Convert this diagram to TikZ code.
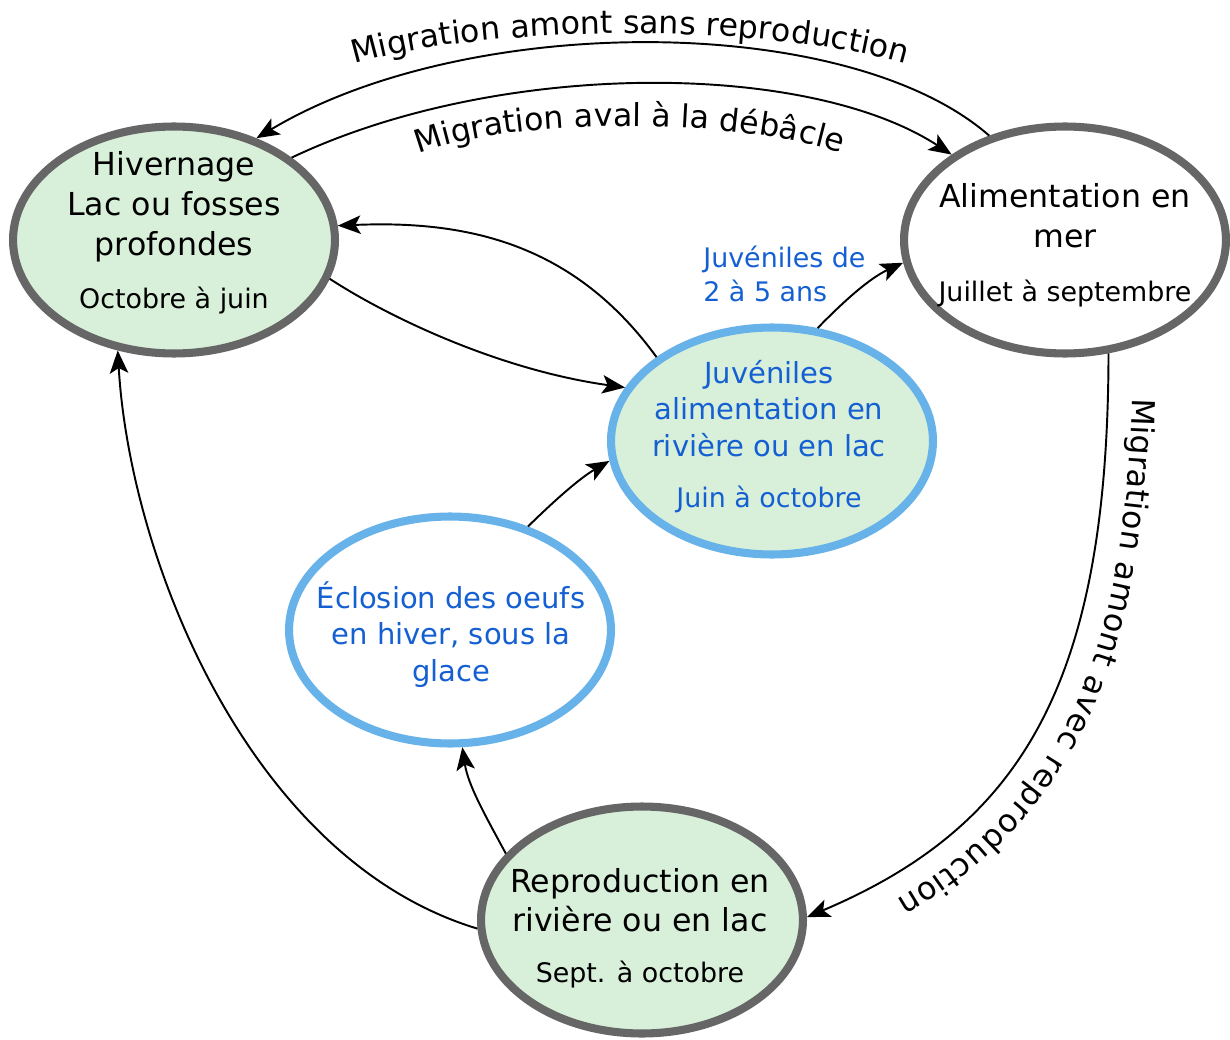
\documentclass[tikz,border=0pt]{standalone}
\usepackage{fontspec}
\setmainfont{DejaVu Sans}
\usetikzlibrary{shapes.geometric,arrows.meta,decorations.text}
\definecolor{grayb}{RGB}{102,102,102}
\definecolor{greenf}{RGB}{216,240,218}
\definecolor{blueb}{RGB}{104,178,234}
\definecolor{bluet}{RGB}{20,95,210}
\newcommand{\mybigfont}{\fontsize{18}{22.7}\selectfont}
\newcommand{\mybluefont}{\fontsize{16.5}{21}\selectfont}
\newcommand{\mysmfont}{\fontsize{15.3}{18}\selectfont}
\newcommand{\mylabfont}{\fontsize{15.3}{19.3}\selectfont}
\newcommand{\myarcfont}{\fontsize{18}{20}\selectfont}
\begin{document}
\begin{tikzpicture}[x=0.02cm,y=0.02cm,
  ell/.style={ellipse, minimum width=6.44cm, minimum height=4.54cm, inner sep=0pt, line width=4.6pt},
  grayell/.style={ell, draw=grayb},
  blueell/.style={ell, draw=blueb},
  txt/.style={inner sep=0pt, anchor=base},
  conn/.style={line width=1.1pt, -{Stealth[length=13pt,width=10.5pt,inset=3pt]}},
  arclabel/.style={decorate, decoration={text along path, text align=center}}
]
\useasboundingbox (0,0) rectangle (1230,-1040);
% ellipses
\node[grayell, fill=greenf] (hiv) at (174,-240) {};
\node[grayell, fill=white] (ali) at (1065,-240) {};
\node[blueell, fill=greenf] (juv) at (772,-441) {};
\node[blueell, fill=white] (ecl) at (450,-630) {};
\node[grayell, fill=greenf] (rep) at (642,-920) {};
% texts
\node[txt] (hivt) at (174,-176) {\mybigfont\begin{tabular}[t]{@{}c@{}}Hivernage\\Lac ou fosses\\profondes\\[7.3pt]\mysmfont Octobre à juin\end{tabular}};
\node[txt] (alit) at (1065,-208) {\mybigfont\begin{tabular}[t]{@{}c@{}}Alimentation en\\mer\\[8pt]\mysmfont Juillet à septembre\end{tabular}};
\node[txt, text=bluet] (juvt) at (769,-383) {\mybluefont\begin{tabular}[t]{@{}c@{}}Juvéniles\\alimentation en\\rivière ou en lac\\[7.9pt]\mysmfont Juin à octobre\end{tabular}};
\node[txt, text=bluet] (eclt) at (451,-608) {\mybluefont\begin{tabular}[t]{@{}c@{}}Éclosion des oeufs\\en hiver, sous la\\glace\end{tabular}};
\node[txt] (rept) at (640,-892) {\mybigfont\begin{tabular}[t]{@{}c@{}}Reproduction en\\rivière ou en lac\\[6.2pt]\mysmfont Sept. à octobre\end{tabular}};
\node[inner sep=0pt, anchor=base west, text=bluet] (jlab) at (703,-268) {\mylabfont\begin{tabular}[t]{@{}l@{}}Juvéniles de\\2 à 5 ans\end{tabular}};
% connectors
\draw[conn] (ali.126) .. controls (848,-12) and (467,-12) .. (hiv.51);
\draw[conn] (hiv.35) .. controls (497,-60) and (806,-60) .. (ali.143);
\draw[conn] (juv.144) .. controls (575,-245) and (470,-220) .. (hiv.5);
\draw[conn] (hiv.346) .. controls (390,-318) and (500,-370) .. (juv.160);
\draw[conn] (juv.68) .. controls (845,-300) and (870,-278) .. (ali.188);
\draw[conn] (ecl.53) .. controls (555,-500) and (580,-478) .. (juv.187);
\draw[conn] (rep.154) .. controls (485,-815) and (468,-785) .. (ecl.276);
\draw[conn] (rep.183) .. controls (250,-860) and (130,-560) .. (hiv.243);
\draw[conn] (ali.291) .. controls (1108,-683) and (1022,-826) .. (rep.1);
% curved labels
\path[arclabel, decoration={text={|\myarcfont|Migration amont sans reproduction}}] (342,-68) .. controls (478,-22) and (782,-22) .. (918,-68);
\path[arclabel, decoration={text={|\myarcfont|Migration aval à la débâcle}}] (405,-160) .. controls (497,-115) and (743,-115) .. (855,-158);
\path[decorate, decoration={text along path, raise=14pt, text align={left indent=25pt}, text={|\myarcfont|Migration amont avec reproduction}}] (ali.291) .. controls (1108,-683) and (1022,-826) .. (rep.1);
\end{tikzpicture}
\end{document}
